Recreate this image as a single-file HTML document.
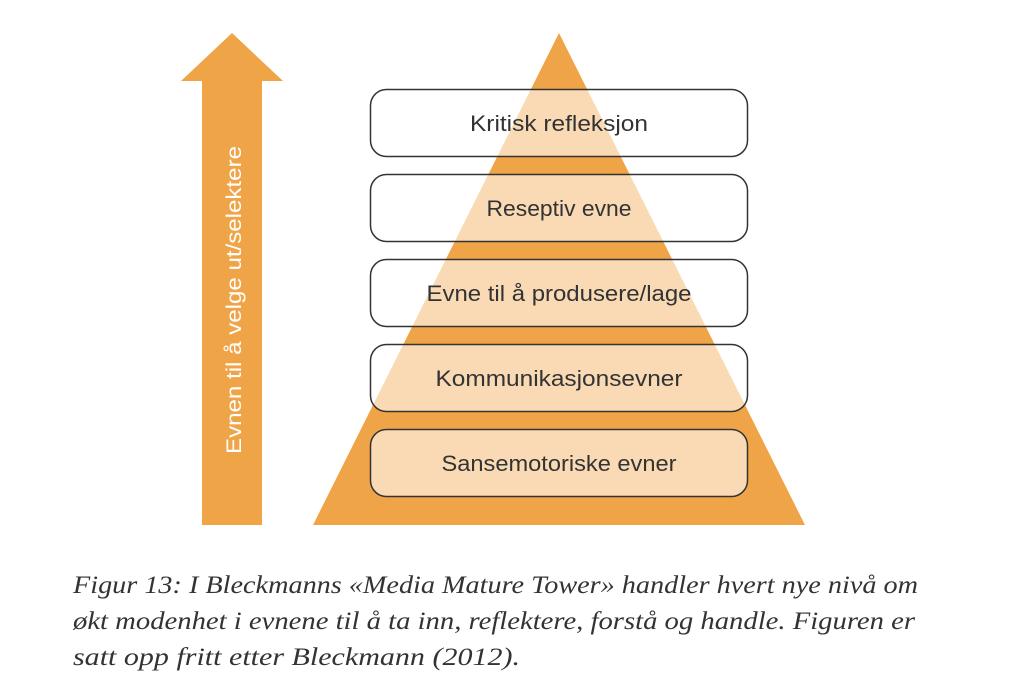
<!DOCTYPE html>
<html><head><style>body{margin:0;background:#fff}</style></head><body>
<svg width="1020" height="692" xmlns="http://www.w3.org/2000/svg" style="display:block">
<polygon points="559,33 313,525 805,525" fill="#f0a448"/>
<polygon points="232,33 181,81 202,81 202,525 262,525 262,81 283,81" fill="#f0a448"/>
<text transform="translate(241,300) rotate(-90)" text-anchor="middle" font-family="Liberation Sans, sans-serif" font-size="21" fill="#fff" textLength="308" lengthAdjust="spacingAndGlyphs">Evnen til å velge ut/selektere</text>
<g fill="#fff" fill-opacity="0.6" stroke="#333" stroke-width="1.5">
<rect x="370.5" y="89.5" width="377" height="67" rx="16"/>
<rect x="370.5" y="174.5" width="377" height="67" rx="16"/>
<rect x="370.5" y="259.5" width="377" height="67" rx="16"/>
<rect x="370.5" y="344.5" width="377" height="67" rx="16"/>
<rect x="370.5" y="429.5" width="377" height="67" rx="16"/>
</g>
<g font-family="Liberation Sans, sans-serif" font-size="22" fill="#333" text-anchor="middle" lengthAdjust="spacingAndGlyphs">
<text x="559" y="131" textLength="178" lengthAdjust="spacingAndGlyphs">Kritisk refleksjon</text>
<text x="559" y="216" textLength="145" lengthAdjust="spacingAndGlyphs">Reseptiv evne</text>
<text x="559" y="301" textLength="265" lengthAdjust="spacingAndGlyphs">Evne til å produsere/lage</text>
<text x="559" y="386" textLength="247" lengthAdjust="spacingAndGlyphs">Kommunikasjonsevner</text>
<text x="559" y="471" textLength="235" lengthAdjust="spacingAndGlyphs">Sansemotoriske evner</text>
</g>
<g font-family="Liberation Serif, serif" font-style="italic" font-size="25" fill="#333">
<text x="73" y="593" textLength="845" lengthAdjust="spacingAndGlyphs">Figur 13: I Bleckmanns «Media Mature Tower» handler hvert nye nivå om</text>
<text x="73" y="629" textLength="842" lengthAdjust="spacingAndGlyphs">økt modenhet i evnene til å ta inn, reflektere, forstå og handle. Figuren er</text>
<text x="73" y="665" textLength="447" lengthAdjust="spacingAndGlyphs">satt opp fritt etter Bleckmann (2012).</text>
</g>
</svg>
</body></html>
